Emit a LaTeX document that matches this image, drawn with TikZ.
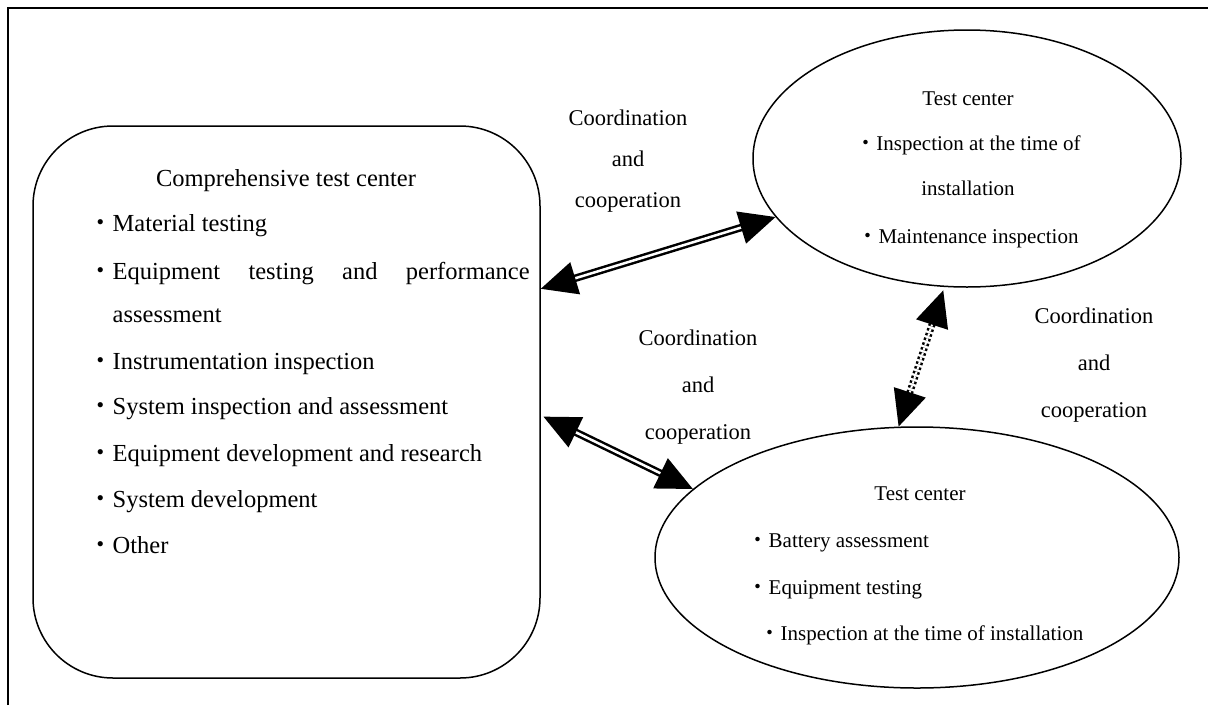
\documentclass[tikz,border=0pt]{standalone}
\usepackage{fontspec}
\setmainfont{Liberation Serif}
\newfontfamily\jpdot{Noto Sans CJK JP}
\usetikzlibrary{arrows.meta,shapes.geometric}
\newcommand{\itembul}{{\jpdot ・}}

\tikzset{
  outline/.style={draw, line width=1.5pt, inner sep=0pt},
  boxtext/.style={font=\fontsize{24.5}{24.5}\selectfont, inner sep=0pt, text height=0.7em, text depth=0.25em},
  boxline/.style={boxtext, anchor=west},
  ovaltext/.style={font=\fontsize{21}{21}\selectfont, inner sep=0pt, text height=0.7em, text depth=0.25em},
  lbltext/.style={font=\fontsize{22.5}{22.5}\selectfont, inner sep=0pt, text height=0.7em, text depth=0.25em},
  bigtip/.tip={Triangle[length=36pt,width=33pt]},
  coop/.style={double, double distance=2.5pt, line width=2.5pt, bigtip-bigtip},
  coopdot/.style={double, double distance=2pt, line width=2.5pt, dash pattern=on 2.5pt off 2.5pt, bigtip-bigtip},
}

\begin{document}
\begin{tikzpicture}[x=1pt,y=-1pt]
\useasboundingbox (0,0) rectangle (1208,705);
% page frame: top and left edges
\draw[line width=1.6pt] (8,705) -- (8,8) -- (1208,8);

% the three centres
\node[outline, rounded corners=80pt, minimum width=507pt, minimum height=552pt] (box) at (286.5,402) {};
\node[outline, ellipse, minimum width=428pt, minimum height=257pt] (upper) at (967,158.5) {};
\node[outline, ellipse, minimum width=524pt, minimum height=261pt] (lower) at (917,557.5) {};

% comprehensive test center
\node[boxtext] (boxtitle) at (286,184) {Comprehensive test center};
\node[boxline] (item1) at (88,229) {\itembul Material testing};
\node[boxline] (item2) at (88,277) {\itembul\makebox[417pt][s]{Equipment testing and performance}};
\node[boxline] (item2b) at (112.5,320) {assessment};
\node[boxline] (item3) at (88,367) {\itembul Instrumentation inspection};
\node[boxline] (item4) at (88,412) {\itembul System inspection and assessment};
\node[boxline] (item5) at (88,459) {\itembul Equipment development and research};
\node[boxline] (item6) at (88,505) {\itembul System development};
\node[boxline] (item7) at (88,551) {\itembul Other};

% upper test center
\node[ovaltext] (utitle) at (968,103) {Test center};
\node[ovaltext] (uitem1) at (968,148) {\itembul Inspection at the time of};
\node[ovaltext] (uitem1b) at (968,193) {installation};
\node[ovaltext] (uitem2) at (968,241) {\itembul Maintenance inspection};

% lower test center
\node[ovaltext] (ltitle) at (920,498) {Test center};
\node[ovaltext, anchor=west] (litem1) at (747.5,545) {\itembul Battery assessment};
\node[ovaltext, anchor=west] (litem2) at (747.5,592) {\itembul Equipment testing};
\node[ovaltext, anchor=west] (litem3) at (759.5,638) {\itembul Inspection at the time of installation};

% connector labels
\node[lbltext] (la1) at (628,123) {Coordination};
\node[lbltext] (la2) at (628,164) {and};
\node[lbltext] (la3) at (628,205) {cooperation};
\node[lbltext] (lb1) at (698,343) {Coordination};
\node[lbltext] (lb2) at (698,390) {and};
\node[lbltext] (lb3) at (698,437) {cooperation};
\node[lbltext] (lc1) at (1094,321) {Coordination};
\node[lbltext] (lc2) at (1094,368) {and};
\node[lbltext] (lc3) at (1094,415) {cooperation};

% connectors
\draw[coop] (box.24.21) -- (upper.197.94);
\draw[coop, shorten <=3pt] (box.-3.61) -- (lower.163.82);
\draw[coopdot, shorten >=3.5pt] (lower.98.74) -- (upper.260.23);
\end{tikzpicture}
\end{document}
